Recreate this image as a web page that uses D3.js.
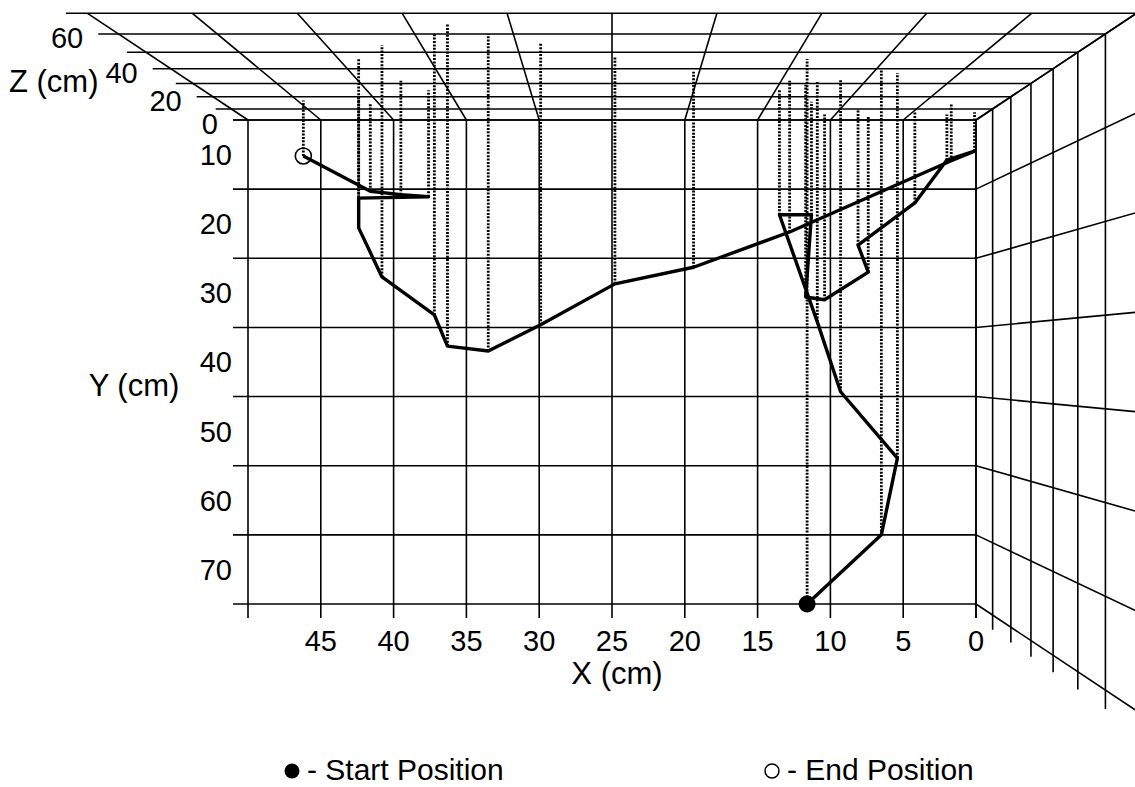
<!DOCTYPE html>
<html>
<head>
<meta charset="utf-8">
<script src="https://cdn.jsdelivr.net/npm/d3@7"></script>
<style>
  body { margin: 0; background: #fff; }
  text { font-family: "Liberation Sans", Arial, sans-serif; fill: #000; }
</style>
</head>
<body>
<div id="chart"></div>
<script>
// trajectory from start to end position (cm)
const pathX = [11.6, 6.5, 5.4, 9.3, 10.9, 13.5, 11.3, 11.7, 10.4, 7.4, 8.1, 4.2, 2.0, 0.1, 1.7,
               12.8, 19.4, 24.8, 29.9, 33.5, 36.3, 37.2, 40.8, 42.4, 42.4, 37.6, 39.5, 41.6, 46.2];
const pathY = [70.0, 60.0, 48.9, 39.3, 29.2, 13.7, 13.7, 25.6, 26.0, 22.0, 18.1, 12.0, 5.8, 4.5, 5.9,
               16.2, 21.3, 23.7, 29.6, 33.4, 32.7, 28.2, 22.7, 15.6, 11.3, 11.1, 10.8, 10.3, 5.2];
const pathZ = [46, 40, 37, 33, 31, 26, 16, 29, 5, 4, 10, 7, 5, 7, 15,
               32, 38, 47, 55, 60, 65, 60, 54, 46, 20, 25, 32, 15, 17];

// axes
const xGrid = d3.range(0, 51, 5);
const yGrid = d3.range(0, 71, 10);
const zGrid = d3.range(0, 71, 10);
const xLabels = [45, 40, 35, 30, 25, 20, 15, 10, 5, 0];
const yLabels = [10, 20, 30, 40, 50, 60, 70];
const zLabels = [0, 20, 40, 60];

const width = 1135, height = 787;

const svg = d3.select("#chart")
  .append("svg")
  .attr("width", width)
  .attr("height", height);

// floor plane scales
const x = d3.scaleLinear().domain([0, 50]).range([976, 248]);
const y = d3.scaleLinear().domain([0, 70]).range([120, 604]);
// perspective: 1 / magnification for height Z
const depth = d3.scaleLinear().domain([0, 70]).range([1, 0.694]);
const cx = x(25), cy = y(35);

function proj(X, Y, Z) {
  const k = depth(Z);
  return [cx + (x(X) - cx) / k, cy + (y(Y) - cy) / k];
}

// tick overhang
const xExt = x.invert(x(50) - 15) - 50;
const yExt = y.invert(y(70) + 14) - 70;

const grid = [];
// floor
xGrid.forEach(X => grid.push([proj(X, 0, 0), proj(X, 70 + yExt, 0)]));
yGrid.forEach(Y => grid.push([proj(50 + xExt, Y, 0), proj(0, Y, 0)]));
// back wall (Y = 0)
xGrid.forEach(X => grid.push([proj(X, 0, 0), proj(X, 0, 70)]));
zGrid.forEach(Z => grid.push([proj(50 + xExt, 0, Z), proj(0, 0, Z)]));
// right wall (X = 0)
zGrid.forEach(Z => grid.push([proj(0, 0, Z), proj(0, 70 + yExt, Z)]));
yGrid.forEach(Y => grid.push([proj(0, Y, 0), proj(0, Y, 70)]));

svg.append("g")
  .selectAll("line")
  .data(grid)
  .enter()
  .append("line")
  .attr("x1", d => d[0][0])
  .attr("y1", d => d[0][1])
  .attr("x2", d => d[1][0])
  .attr("y2", d => d[1][1])
  .attr("stroke", "#000")
  .attr("stroke-width", 1.6);

const pts = pathX.map((X, i) => ({ X: X, Y: pathY[i], Z: pathZ[i] }));

// height drop lines
svg.append("g")
  .selectAll("line")
  .data(pts)
  .enter()
  .append("line")
  .attr("x1", d => x(d.X))
  .attr("y1", d => y(d.Y))
  .attr("x2", d => x(d.X))
  .attr("y2", d => proj(0, 0, d.Z)[1])
  .attr("stroke", "#000")
  .attr("stroke-width", 2.8)
  .attr("stroke-dasharray", "2,1.4");

// trajectory
svg.append("path")
  .datum(pts)
  .attr("d", d3.line().x(d => x(d.X)).y(d => y(d.Y)))
  .attr("fill", "none")
  .attr("stroke", "#000")
  .attr("stroke-width", 3.4)
  .attr("stroke-linejoin", "round");

const first = pts[0], last = pts[pts.length - 1];
svg.append("circle")
  .attr("cx", x(first.X)).attr("cy", y(first.Y)).attr("r", 8.5)
  .attr("fill", "#000");
svg.append("circle")
  .attr("cx", x(last.X)).attr("cy", y(last.Y)).attr("r", 8)
  .attr("fill", "none").attr("stroke", "#000").attr("stroke-width", 1.6);

// labels
const fs = 29, fsTitle = 31;
svg.append("g")
  .selectAll("text")
  .data(xLabels)
  .enter()
  .append("text")
  .attr("x", d => x(d))
  .attr("y", 651)
  .attr("text-anchor", "middle")
  .style("font-size", fs + "px")
  .text(d => d);

svg.append("g")
  .selectAll("text")
  .data(yLabels)
  .enter()
  .append("text")
  .attr("x", 232)
  .attr("y", d => y(d - 5))
  .attr("dy", "0.36em")
  .attr("text-anchor", "end")
  .style("font-size", fs + "px")
  .text(d => d);

svg.append("g")
  .selectAll("text")
  .data(zLabels)
  .enter()
  .append("text")
  .attr("x", d => proj(50 + xExt, 0, d)[0] - 15)
  .attr("y", d => proj(0, 0, d)[1] + 4)
  .attr("dy", "0.36em")
  .attr("text-anchor", "end")
  .style("font-size", fs + "px")
  .text(d => d);

svg.append("text").attr("x", 617).attr("y", 684).attr("text-anchor", "middle")
  .style("font-size", fsTitle + "px").text("X (cm)");
svg.append("text").attr("x", 134).attr("y", 396).attr("text-anchor", "middle")
  .style("font-size", fsTitle + "px").text("Y (cm)");
svg.append("text").attr("x", 9).attr("y", 92)
  .style("font-size", fsTitle + "px").text("Z (cm)");

// legend
const fsLegend = 30;
svg.append("circle").attr("cx", 292).attr("cy", 771).attr("r", 7.5).attr("fill", "#000");
svg.append("text").attr("x", 307).attr("y", 780)
  .style("font-size", fsLegend + "px").text("- Start Position");
svg.append("circle").attr("cx", 772).attr("cy", 771).attr("r", 7)
  .attr("fill", "none").attr("stroke", "#000").attr("stroke-width", 1.5);
svg.append("text").attr("x", 787).attr("y", 780)
  .style("font-size", fsLegend + "px").text("- End Position");
</script>
</body>
</html>
